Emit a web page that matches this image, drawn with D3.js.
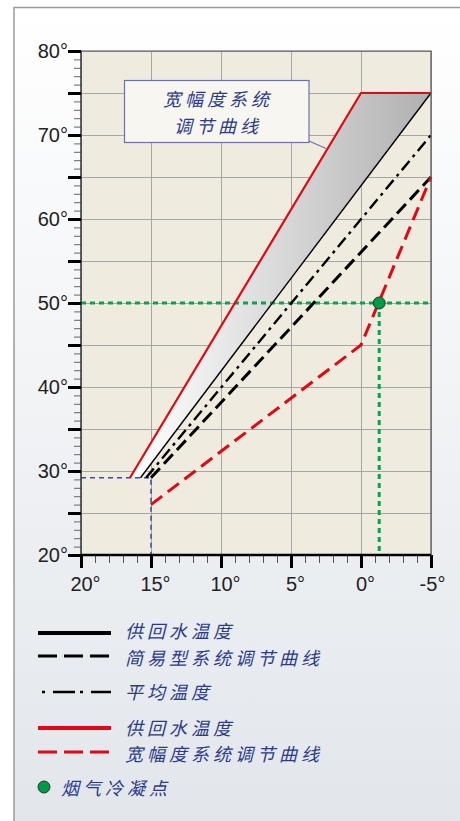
<!DOCTYPE html>
<html><head><meta charset="utf-8">
<script src="https://cdn.jsdelivr.net/npm/d3@7"></script>
<style>
html,body{margin:0;padding:0;background:#fff;}
svg{display:block;}
.cjk{font-family:"Noto Sans CJK SC","Noto Sans",sans-serif;font-style:italic;fill:#2b3a8c;}
.tick text{font-family:"Liberation Sans",Arial,sans-serif;font-size:20px;fill:#222;}
</style></head>
<body>
<script>
// ---- data ----
const xTicks = [20, 15, 10, 5, 0, -5];
const yTicks = [20, 30, 40, 50, 60, 70, 80];
const redSupplyReturn = [[16.5, 29.2], [0, 75], [-5, 75]];
const blackSupplyReturn = [[15.75, 29.2], [-5, 75]];
const averageTemp = [[15.35, 29.2], [-5, 70]];
const simpleCurve = [[15, 29.2], [-5, 65]];
const wideCurve = [[15, 26], [0, 45], [-5, 65]];
const condensationPoint = [-1.3, 50];
const baseGuide = [15, 29.2];
const calloutLines = ["宽幅度系统", "调节曲线"];
const legendLabels = ["供回水温度", "简易型系统调节曲线", "平均温度", "供回水温度", "宽幅度系统调节曲线", "烟气冷凝点"];

const W = 460, H = 821;
const FS = 18, LS = 4;
const svg = d3.select("body").append("svg").attr("width", W).attr("height", H);
const defs = svg.append("defs");
const bg = defs.append("linearGradient").attr("id", "bg").attr("x1", 0).attr("y1", 0).attr("x2", 0).attr("y2", 1);
bg.append("stop").attr("offset", "0%").attr("stop-color", "#ffffff");
bg.append("stop").attr("offset", "100%").attr("stop-color", "#e2e6eb");
const band = defs.append("linearGradient").attr("id", "band").attr("gradientUnits", "userSpaceOnUse")
  .attr("x1", 135).attr("y1", 0).attr("x2", 431).attr("y2", 0);
band.append("stop").attr("offset", "0%").attr("stop-color", "#ffffff");
band.append("stop").attr("offset", "45%").attr("stop-color", "#dcdcdc");
band.append("stop").attr("offset", "100%").attr("stop-color", "#b0b0b0");

svg.append("rect").attr("x", 14).attr("y", 7.5).attr("width", W).attr("height", H)
  .attr("fill", "url(#bg)").attr("stroke", "#9a9a9a").attr("stroke-width", 1.5);

const x = d3.scaleLinear().domain([20, -5]).range([81, 431]);
const y = d3.scaleLinear().domain([20, 80]).range([555, 51]);

// plot background
svg.append("rect").attr("x", x(20)).attr("y", y(80)).attr("width", x(-5) - x(20)).attr("height", y(20) - y(80))
  .attr("fill", "#efecdf");

// grid
const gridX = svg.append("g").attr("transform", `translate(0,${y(20)})`)
  .call(d3.axisBottom(x).tickValues(xTicks).tickSize(-(y(20) - y(80))).tickFormat(""));
const gridY = svg.append("g").attr("transform", `translate(${x(20)},0)`)
  .call(d3.axisLeft(y).tickValues(d3.range(20, 81, 5)).tickSize(-(x(-5) - x(20))).tickFormat(""));
[gridX, gridY].forEach(g => { g.select(".domain").remove(); g.selectAll("line").attr("stroke", "#a6a6a6").attr("stroke-width", 1); });

// band fill
const bandPts = redSupplyReturn.concat(blackSupplyReturn.slice().reverse());
svg.append("path").attr("d", d3.line().x(d => x(d[0])).y(d => y(d[1]))(bandPts) + "Z")
  .attr("fill", "url(#band)");

const line = d3.line().x(d => x(d[0])).y(d => y(d[1]));

// guides
svg.append("path").attr("d", line([[20, baseGuide[1]], baseGuide, [baseGuide[0], 20]]))
  .attr("fill", "none").attr("stroke", "#3f4a9c").attr("stroke-width", 1.5).attr("stroke-dasharray", "5,4");
svg.append("path").attr("d", line([[20, condensationPoint[1]], [-5, condensationPoint[1]]]))
  .attr("fill", "none").attr("stroke", "#00a74a").attr("stroke-width", 3).attr("stroke-dasharray", "5,4");
svg.append("path").attr("d", line([condensationPoint, [condensationPoint[0], 20]]))
  .attr("fill", "none").attr("stroke", "#00a74a").attr("stroke-width", 3).attr("stroke-dasharray", "5,4");

// lines
const drawLine = (data, color, w, dash) => svg.append("path").attr("d", line(data))
  .attr("fill", "none").attr("stroke", color).attr("stroke-width", w)
  .attr("stroke-dasharray", dash || null).attr("stroke-linejoin", "miter");
drawLine(blackSupplyReturn, "#000", 1.4);
drawLine(averageTemp, "#000", 2.4, "12,5,3,5");
drawLine(simpleCurve, "#000", 3, "13,6");
drawLine(wideCurve, "#e30613", 3, "14,7");
drawLine(redSupplyReturn, "#e30613", 2.2);

// condensation point
svg.append("circle").attr("cx", x(condensationPoint[0])).attr("cy", y(condensationPoint[1])).attr("r", 6)
  .attr("fill", "#009a44").attr("stroke", "#1f3a2a").attr("stroke-width", 1);

// plot border top/right
svg.append("path").attr("d", `M${x(20)},${y(80)}H${x(-5)}V${y(20)}`).attr("fill", "none").attr("stroke", "#555").attr("stroke-width", 1.2);

// callout
svg.append("line").attr("x1", 309).attr("y1", 141).attr("x2", 326).attr("y2", 148.5).attr("stroke", "#6b70b0").attr("stroke-width", 1.2);
svg.append("rect").attr("x", 124.5).attr("y", 80.5).attr("width", 184.5).attr("height", 62)
  .attr("fill", "#f7f6f0").attr("stroke", "#6b70b0").attr("stroke-width", 1.2);
calloutLines.forEach((t, i) => svg.append("text").attr("class", "cjk").attr("x", 218).attr("y", 98 + i * 26.5)
  .attr("text-anchor", "middle").attr("dominant-baseline", "central").attr("font-size", FS)
  .attr("letter-spacing", LS).text(t));

// y axis
const yMinor = svg.append("g").attr("transform", `translate(${x(20)},0)`)
  .call(d3.axisLeft(y).tickValues(d3.range(20, 81, 1)).tickSize(7).tickFormat(""));
yMinor.selectAll("line").attr("stroke", "#666").attr("stroke-width", 1);
yMinor.select(".domain").remove();
const yMajor = svg.append("g").attr("transform", `translate(${x(20)},0)`)
  .call(d3.axisLeft(y).tickValues(d3.range(20, 81, 5)).tickSize(13).tickPadding(0)
    .tickFormat(d => yTicks.includes(d) ? d + "°" : ""));
yMajor.selectAll("line").attr("stroke", "#000").attr("stroke-width", 3);
yMajor.select(".domain").attr("d", `M0,${y(80)}V${y(20)}`).attr("stroke", "#333").attr("stroke-width", 1.5);

// x axis
const xMinor = svg.append("g").attr("transform", `translate(0,${y(20)})`)
  .call(d3.axisBottom(x).tickValues(d3.range(-5, 21, 1)).tickSize(8).tickFormat(""));
xMinor.selectAll("line").attr("stroke", "#555").attr("stroke-width", 1);
xMinor.select(".domain").remove();
const xMajor = svg.append("g").attr("transform", `translate(0,${y(20)})`)
  .call(d3.axisBottom(x).tickValues(xTicks).tickSize(13).tickPadding(9).tickFormat(d => d + "°"));
xMajor.selectAll("line").attr("stroke", "#000").attr("stroke-width", 3);
xMajor.selectAll("text").attr("dx", d => d === -5 ? 1 : 4);
xMajor.select(".domain").attr("d", `M${x(20)},0H${x(-5)}`).attr("stroke", "#000").attr("stroke-width", 2.5);

// legend
const lg = svg.append("g");
const legendRows = [
  {y: 633, ty: 630, color: "#000", w: 4, dash: null},
  {y: 656, ty: 656.5, color: "#000", w: 3, dash: "19,7"},
  {y: 692, ty: 691, color: "#000", w: 2.5, dash: "3,8,22,5", x1: 42},
  {y: 728, ty: 726.5, color: "#e30613", w: 4, dash: null},
  {y: 752, ty: 753, color: "#e30613", w: 3, dash: "19,7"}
];
legendRows.forEach((r, i) => {
  lg.append("line").attr("x1", r.x1 || 38).attr("x2", 111).attr("y1", r.y).attr("y2", r.y)
    .attr("stroke", r.color).attr("stroke-width", r.w).attr("stroke-dasharray", r.dash);
  lg.append("text").attr("class", "cjk").attr("x", 125).attr("y", r.ty).attr("dominant-baseline", "central")
    .attr("font-size", FS).attr("letter-spacing", LS).text(legendLabels[i]);
});
lg.append("circle").attr("cx", 44).attr("cy", 787).attr("r", 6).attr("fill", "#009a44").attr("stroke", "#1f3a2a").attr("stroke-width", 1);
lg.append("text").attr("class", "cjk").attr("x", 61).attr("y", 787).attr("dominant-baseline", "central")
  .attr("font-size", FS).attr("letter-spacing", LS).text(legendLabels[5]);
</script>
</body></html>
